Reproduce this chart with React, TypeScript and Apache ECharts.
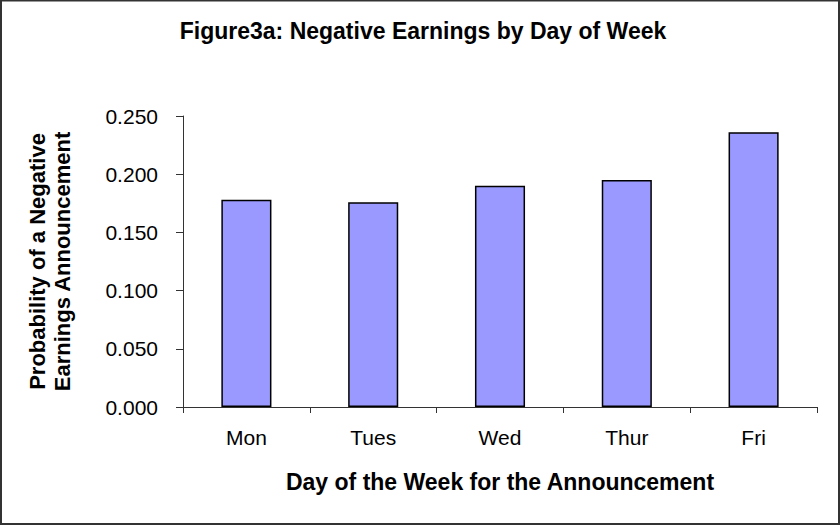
import React, { useEffect, useRef } from "react";
import * as echarts from "echarts";

const categories = ["Mon", "Tues", "Wed", "Thur", "Fri"];
const probabilities = [0.178, 0.176, 0.19, 0.195, 0.236];
const yTicks = { min: 0, max: 0.25, interval: 0.05 };

const titleText = "Figure3a: Negative Earnings by Day of Week";
const xTitle = "Day of the Week for the Announcement";
const yTitle = "Probability of a Negative\nEarnings Announcement";

export default function App() {
  const ref = useRef<HTMLDivElement>(null);
  useEffect(() => {
    if (!ref.current) return;
    const chart = echarts.init(ref.current, null, { renderer: "svg" });
    const font = "'Liberation Sans', Arial, sans-serif";
    chart.setOption({
      animation: false,
      backgroundColor: "#ffffff",
      textStyle: { fontFamily: font },
      title: {
        text: titleText,
        left: 418,
        top: 14,
        textAlign: "center",
        textStyle: { fontFamily: font, fontSize: 23, fontWeight: "bold", color: "#000" },
      },
      grid: { left: 183, right: 23, top: 116, bottom: 118, containLabel: false },
      xAxis: {
        type: "category",
        data: categories,
        name: xTitle,
        nameLocation: "middle",
        nameGap: 63,
        nameTextStyle: { fontFamily: font, fontSize: 23, fontWeight: "bold", color: "#000" },
        axisLine: { lineStyle: { color: "#333", width: 1 } },
        axisTick: { show: true, length: 6, lineStyle: { color: "#333" } },
        axisLabel: { fontFamily: font, fontSize: 21, color: "#000", margin: 20 },
      },
      yAxis: {
        type: "value",
        min: yTicks.min,
        max: yTicks.max,
        interval: yTicks.interval,
        name: yTitle,
        nameLocation: "middle",
        nameGap: 108,
        nameRotate: 90,
        nameTextStyle: { fontFamily: font, fontSize: 22, fontWeight: "bold", color: "#000", lineHeight: 25, align: "center" },
        axisLine: { show: true, lineStyle: { color: "#333", width: 1 } },
        axisTick: { show: true, length: 7, lineStyle: { color: "#333" } },
        splitLine: { show: false },
        axisLabel: {
          fontFamily: font,
          fontSize: 21,
          color: "#000",
          margin: 25,
          formatter: (v: number) => v.toFixed(3),
        },
      },
      series: [
        {
          type: "bar",
          data: probabilities,
          barWidth: "39.5%",
          itemStyle: { color: "#9999FF", borderColor: "#000", borderWidth: 1.5 },
        },
      ],
      graphic: [
        {
          type: "rect",
          shape: { x: 1, y: 0.5, width: 838, height: 523.5 },
          style: { fill: "none", stroke: "#333", lineWidth: 2 },
          silent: true,
        },
      ],
    });
    return () => chart.dispose();
  }, []);
  return (
    <div
      ref={ref}
      style={{ position: "fixed", left: 0, top: 0, width: 840, height: 525 }}
    />
  );
}
